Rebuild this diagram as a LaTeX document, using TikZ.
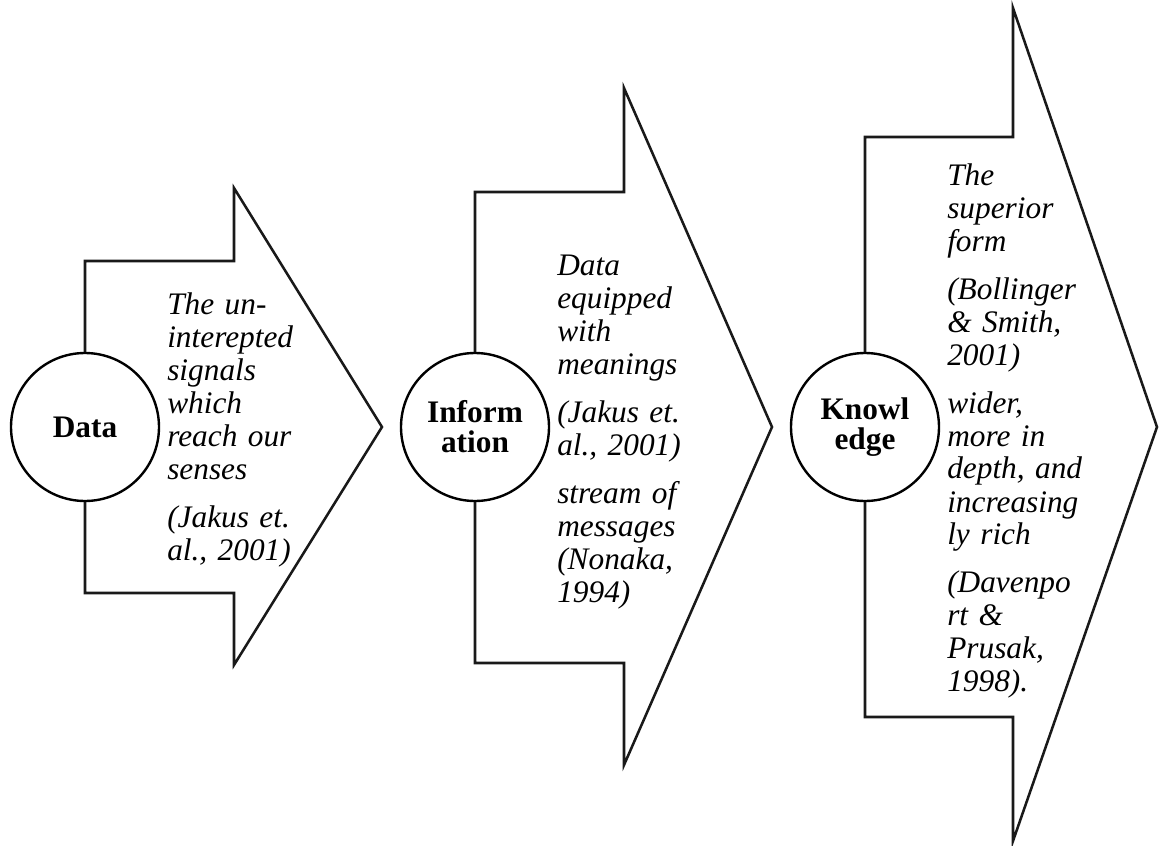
\documentclass[tikz,border=0pt]{standalone}
\usepackage{fontspec}
\setmainfont{Liberation Serif}
\begin{document}
\begin{tikzpicture}[x=0.75pt,y=-0.75pt,
  shapeline/.style={draw=black!90, line width=1.9pt, line join=miter, fill=white},
  stage/.style={circle, draw=black, line width=1.8pt, fill=white, minimum size=111pt, inner sep=0pt,
    align=center, font={\fontsize{23.5}{22.5}\selectfont\bfseries}},
  desc/.style={anchor=base west, inner sep=0pt, text width=160pt, align=left,
    font={\fontsize{23.5}{24.75}\selectfont\itshape}}]
\useasboundingbox (0,0) rectangle (1161,846);
% arrow 1
\coordinate (a1) at (85,261);
\draw[shapeline] (a1) -- (234,261) -- (234,188) -- (382,427) -- (234,665) -- (234,593) -- (85,593) -- cycle;
% arrow 2
\coordinate (a2) at (475,192);
\draw[shapeline] (a2) -- (624,192) -- (624,88) -- (772,427) -- (624,765) -- (624,663) -- (475,663) -- cycle;
% arrow 3
\coordinate (a3) at (865,137);
\draw[shapeline] (a3) -- (1013,137) -- (1013,8) -- (1157,427) -- (1013,841) -- (1013,717) -- (865,717) -- cycle;
% circles
\node[stage] (data) at (85,427) {Data};
\node[stage] (info) at (475,427) {Inform\\ation};
\node[stage] (know) at (865,427) {Knowl\\edge};
% descriptions
\node[desc] (t1) at (167,314) {The un-\\interepted\\signals\\which\\reach our\\senses\\[11.25pt](Jakus et.\\al., 2001)};
\node[desc] (t2) at (557,275) {Data\\equipped\\with\\meanings\\[11.25pt](Jakus et.\\al., 2001)\\[11.25pt]stream of\\messages\\(Nonaka,\\1994)};
\node[desc] (t3) at (947,185) {The\\superior\\form\\[11.25pt](Bollinger\\\& Smith,\\2001)\\[11.25pt]wider,\\more in\\depth, and\\increasing\\ly rich\\[11.25pt](Davenpo\\rt \&\\Prusak,\\1998).};
\end{tikzpicture}
\end{document}
